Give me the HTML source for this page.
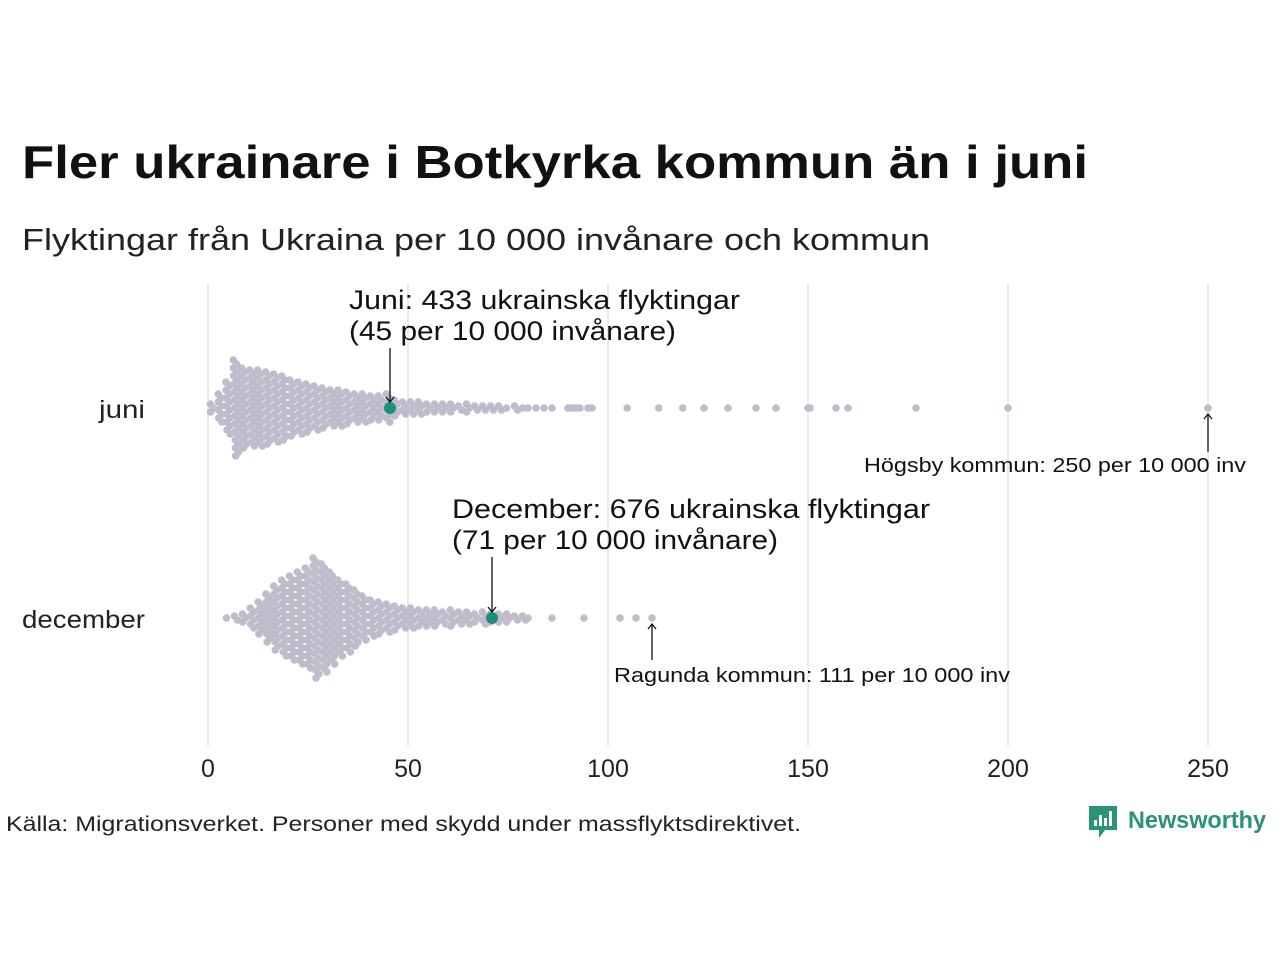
<!DOCTYPE html>
<html><head><meta charset="utf-8"><style>
body{margin:0;background:#fff;font-family:"Liberation Sans","DejaVu Sans",sans-serif}
svg text{font-family:"Liberation Sans","DejaVu Sans",sans-serif}
</style></head><body>
<svg id="c" width="1280" height="960" viewBox="0 0 1280 960" xmlns="http://www.w3.org/2000/svg">
<rect width="1280" height="960" fill="#fff"/>
<text x="22" y="178" font-size="46" font-weight="bold" fill="#111" textLength="1066" lengthAdjust="spacingAndGlyphs">Fler ukrainare i Botkyrka kommun än i juni</text>
<text x="22" y="250" font-size="31" fill="#222" textLength="908" lengthAdjust="spacingAndGlyphs">Flyktingar från Ukraina per 10 000 invånare och kommun</text>
<g id="grid"></g>
<g id="dots"></g>
<g id="ann"></g>
<text x="145" y="418" font-size="25" text-anchor="end" fill="#222" textLength="46" lengthAdjust="spacingAndGlyphs">juni</text>
<text x="145" y="628" font-size="25" text-anchor="end" fill="#222" textLength="123" lengthAdjust="spacingAndGlyphs">december</text>
<text x="6" y="831" font-size="21" fill="#222" textLength="795" lengthAdjust="spacingAndGlyphs">Källa: Migrationsverket. Personer med skydd under massflyktsdirektivet.</text>
<g>
<path d="M1089 806h28v24h-12l-6 8v-8h-10z" fill="#2a9474"/>
<rect x="1094" y="820" width="3" height="6" fill="#fff"/><rect x="1099" y="815" width="3" height="11" fill="#fff"/><rect x="1104" y="818" width="3" height="8" fill="#fff"/><rect x="1109" y="811" width="3" height="15" fill="#fff"/>
<text x="1128" y="828" font-size="24" font-weight="bold" fill="#2a9474" textLength="138" lengthAdjust="spacingAndGlyphs">Newsworthy</text>
</g>
</svg>
<script>
const ticks=[0,50,100,150,200,250];
const binStarts=[0,2,4,6,8,10,12,14,16,18,20,22,24,26,28,30,32,34,36,38,40,42,44,46,48,50,52,54,56,58,60,62,64,66,68,70,72,74,76,78];
const juniCounts=[3,8,14,25,21,20,20,19,18,17,15,14,13,12,11,10,10,9,8,8,7,7,8,5,4,4,4,3,3,3,3,2,3,2,2,2,2,1,2,1];
const juniOutliers=[80,82,84,86,90,91,92,93,95,96,104.8,112.7,118.7,124,130,137,142,150,150.5,157,160,177,200,250];
const decCounts=[0,0,1,2,3,6,9,13,17,20,22,24,26,31,28,24,20,18,15,12,10,9,8,7,6,6,5,5,5,4,5,4,4,3,4,3,3,3,2,2];
const decOutliers=[80,86,94,103,107,111];
const juniHighlight=45.5, decHighlight=71;
const x=v=>208+v*4;
const NS="http://www.w3.org/2000/svg";
function mk(t,a,p){const e=document.createElementNS(NS,t);for(const k in a)e.setAttribute(k,a[k]);p.appendChild(e);return e;}
const grid=document.getElementById('grid');
ticks.forEach(t=>{
 const l=mk('line',{x1:x(t),x2:x(t),y1:284,y2:746,stroke:'#d4d4d4','stroke-width':1},grid);
 
 
 const tx=mk('text',{x:x(t),y:777,'font-size':25,'text-anchor':'middle',fill:'#222'},grid);
 tx.textContent=t;
 
 
});
const dots=document.getElementById('dots');
function swarm(counts,outliers,cy,name){
 counts.forEach((n,b)=>{
  for(let i=0;i<n;i++){
   const off=(i-(n-1)/2)*4;
   const dx=((i%2)?1.5:-1.5)+(off/40);
   const c=mk('circle',{cx:x(binStarts[b]+1)+dx,cy:cy+off,r:3.8,fill:'#bfbdcc'},dots);
   
   
  }
 });
 outliers.forEach(v=>{
  const c=mk('circle',{cx:x(v),cy:cy,r:3.8,fill:'#bfbdcc'},dots);
  
  
 });
}
swarm(juniCounts,juniOutliers,408,'juni');
swarm(decCounts,decOutliers,618,'december');
const ann=document.getElementById('ann');
function hl(v,cy,name){
 const c=mk('circle',{cx:x(v),cy:cy,r:6,fill:'#1a8f7a'},ann);
 
 
}
hl(juniHighlight,408,'botkyrka-juni-point');
hl(decHighlight,618,'botkyrka-december-point');
function arrow(x0,y0,y1,name){
 const g=mk('g',{stroke:'#111','stroke-width':1.3,fill:'none'},ann);
 
 
 mk('line',{x1:x0,x2:x0,y1:y0,y2:y1},g);
 const d=y1>y0?-5:5;
 mk('path',{d:`M${x0-4} ${y1+d}L${x0} ${y1}L${x0+4} ${y1+d}`},g);
}
arrow(x(juniHighlight),348,402,'juni-arrow');
arrow(x(decHighlight),557,612,'december-arrow');
arrow(x(250),452,414,'hogsby-arrow');
arrow(x(111),660,624,'ragunda-arrow');
function txt(s,xx,yy,fs,w,name){
 const t=mk('text',{x:xx,y:yy,'font-size':fs,fill:'#111',textLength:w,lengthAdjust:'spacingAndGlyphs'},ann);
 t.textContent=s;
 
 
}
txt('Juni: 433 ukrainska flyktingar',349,309,27,391,'juni-annotation-line1');
txt('(45 per 10 000 invånare)',349,340,27,327,'juni-annotation-line2');
txt('December: 676 ukrainska flyktingar',452,518,27,478,'december-annotation-line1');
txt('(71 per 10 000 invånare)',452,549,27,326,'december-annotation-line2');
txt('Högsby kommun: 250 per 10 000 inv',864,472,20,382,'hogsby-annotation');
txt('Ragunda kommun: 111 per 10 000 inv',614,682,20,396,'ragunda-annotation');
</script>
</body></html>
